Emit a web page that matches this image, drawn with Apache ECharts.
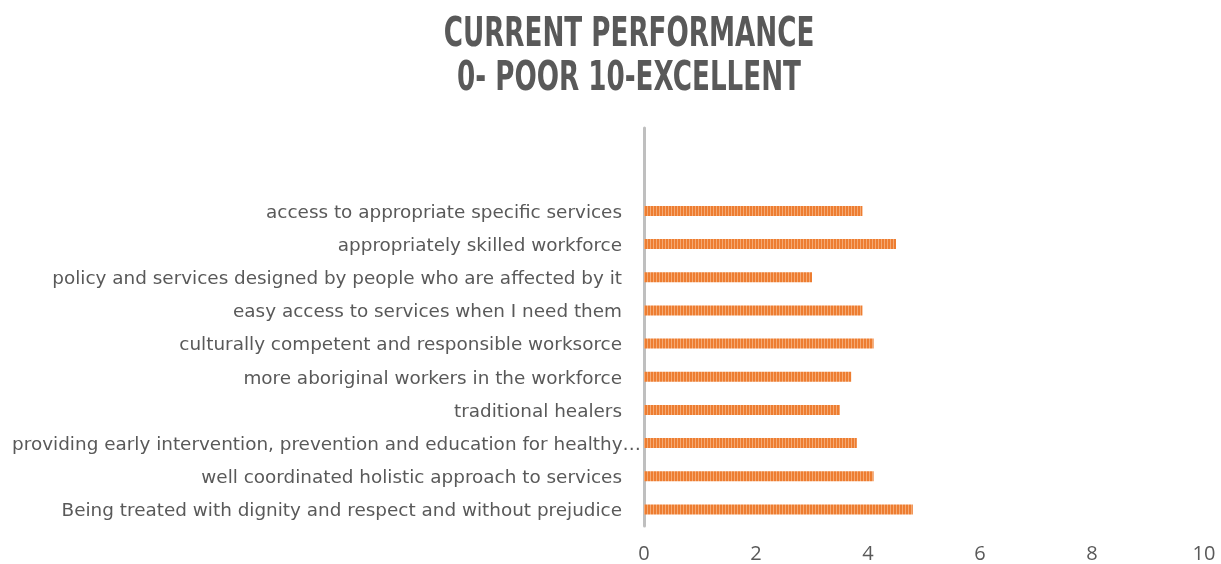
<!DOCTYPE html>
<html>
<head>
<meta charset="utf-8">
<script src="https://cdn.jsdelivr.net/npm/echarts@6/dist/echarts.min.js"></script>
<style>
  html, body { margin: 0; padding: 0; background: #fff; }
  #main { width: 1221px; height: 564px; }
</style>
</head>
<body>
<div id="main"></div>
<script>
// categories, bottom to top (two empty slots at the top like the original)
var categories = [
  'Being treated with dignity and respect and without prejudice',
  'well coordinated holistic approach to services',
  'providing early intervention, prevention and education for healthy…',
  'traditional healers',
  'more aboriginal workers in the workforce',
  'culturally competent and responsible worksorce',
  'easy access to services when I need them',
  'policy and services designed by people who are affected by it',
  'appropriately skilled workforce',
  'access to appropriate specific services',
  '',
  ''
];
var scores = [4.8, 4.1, 3.8, 3.5, 3.7, 4.1, 3.9, 3.0, 4.5, 3.9, '-', '-'];
var xTicks = [0, 2, 4, 6, 8, 10];

// striped orange fill for the bars
var stripe = document.createElement('canvas');
stripe.width = 3;
stripe.height = 10;
var ctx = stripe.getContext('2d');
ctx.fillStyle = '#ED7D31';
ctx.fillRect(0, 0, 3, 10);
ctx.fillStyle = '#F5AA74';
ctx.fillRect(2, 0, 1, 10);

var chart = echarts.init(document.getElementById('main'));

var option = {
  animation: false,
  graphic: [{
    type: 'text',
    x: 629,
    y: 14,
    scaleX: 0.655,
    style: {
      text: 'CURRENT PERFORMANCE\n0- POOR 10-EXCELLENT',
      font: 'bold 40px "DejaVu Sans"',
      fill: '#595959',
      align: 'center',
      lineHeight: 44
    }
  }],
  grid: {
    left: 644,
    right: 17,
    top: 128,
    bottom: 38
  },
  xAxis: {
    type: 'value',
    min: xTicks[0],
    max: xTicks[xTicks.length - 1],
    interval: 2,
    splitLine: { show: false },
    axisLine: { show: false },
    axisTick: { show: false },
    axisLabel: {
      margin: 18,
      color: '#595959',
      fontFamily: 'Open Sans',
      fontSize: 20
    }
  },
  yAxis: {
    type: 'category',
    data: categories,
    axisLine: { show: true, lineStyle: { color: '#BFBFBF', width: 3 } },
    axisTick: { show: false },
    axisLabel: {
      margin: 3,
      interval: 0,
      color: '#595959',
      fontFamily: 'DejaVu Sans',
      fontSize: 18.4,
      formatter: function (v) {
        if (v.indexOf('…') >= 0) return '{b|' + v + '}';
        return '{a|' + v + '}';
      },
      rich: {
        a: {
          color: '#595959',
          fontFamily: 'DejaVu Sans',
          fontSize: 18.4,
          padding: [4, 19, 0, 0]
        },
        b: {
          color: '#595959',
          fontFamily: 'DejaVu Sans',
          fontSize: 18.4,
          padding: [4, 0, 0, 0]
        }
      }
    }
  },
  series: [{
    type: 'bar',
    data: scores,
    barWidth: 10,
    itemStyle: {
      color: { image: stripe, repeat: 'repeat' }
    }
  }]
};

chart.setOption(option);
</script>
</body>
</html>
